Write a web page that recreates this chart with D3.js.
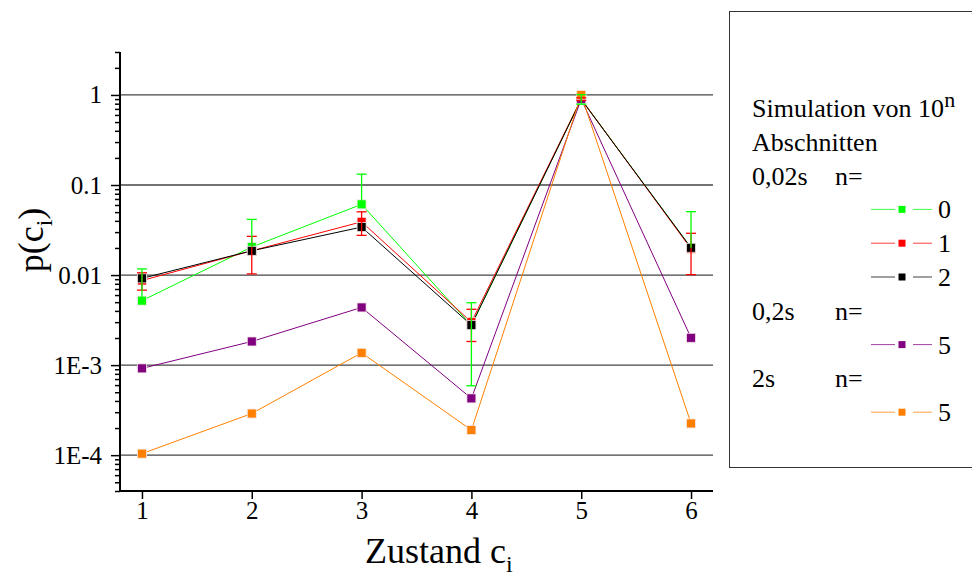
<!DOCTYPE html>
<html>
<head>
<meta charset="utf-8">
<script src="https://cdn.jsdelivr.net/npm/d3@7"></script>
</head>
<body style="margin:0;background:#fff">
<svg id="chart" width="972" height="577" style="display:block"></svg>
<script>
// ---- data ----
const states = [1, 2, 3, 4, 5, 6];
const xTickLabels = ["1", "2", "3", "4", "5", "6"];
const yMajorTicks = [1e-4, 1e-3, 0.01, 0.1, 1];
const yTickLabels = ["1E-4", "1E-3", "0.01", "0.1", "1"];

const green02n0   = [0.0052, 0.0205, 0.061, 0.00276, 0.90, 0.0201];
const green02n0Err = [0.0065, 0.021, 0.071, 0.00217, 0.11, 0.0305];
const red02n1     = [0.0087, 0.0186, 0.039, 0.0030, 0.90, 0.0196];
const red02n1Err  = [0.0019, 0.0083, 0.0114, 0.00117, 0.03, 0.0095];
const black02n2   = [0.0092, 0.0186, 0.0341, 0.00278, 0.89, 0.0201];
const purple2n5   = [0.00092, 0.00183, 0.00437, 0.000427, 0.90, 0.00201];
const orange20n5  = [0.000104, 0.00029, 0.00137, 0.00019, 1.0, 0.000225];

const seriesNames = ["0", "1", "2", "5", "5"];

// ---- setup ----
const FF = '"Liberation Serif"';
const svg = d3.select("#chart");
const x = d3.scaleLinear().domain([0.8, 6.2]).range([120, 713]);
const y = d3.scaleLog().domain([4e-5, 3]).range([491, 52]);

const series = [
  { values: green02n0, err: green02n0Err, color: "#00ff00" },
  { values: red02n1, err: red02n1Err, color: "#ff0000" },
  { values: black02n2, err: null, color: "#000000" },
  { values: purple2n5, err: null, color: "#800080" },
  { values: orange20n5, err: null, color: "#ff8000" }
];

// gridlines
svg.append("g").selectAll("line").data(yMajorTicks).join("line")
  .attr("x1", x.range()[0]).attr("x2", x.range()[1])
  .attr("y1", d => y(d)).attr("y2", d => y(d))
  .attr("stroke", "#444").attr("stroke-width", 1.3);

// lines
const line = d3.line().x((d, i) => x(states[i])).y(d => y(d));
series.forEach(s => {
  svg.append("path").datum(s.values)
    .attr("d", line).attr("fill", "none")
    .attr("stroke", s.color).attr("stroke-width", 1);
});

// markers
series.forEach(s => {
  svg.append("g").selectAll("rect").data(s.values).join("rect")
    .attr("x", (d, i) => x(states[i]) - 4.5)
    .attr("y", d => y(d) - 4.5)
    .attr("width", 9).attr("height", 9)
    .attr("fill", s.color)
    .attr("stroke", "#f4e8e8").attr("stroke-width", 0.8);
});

// error bars (red then green)
[series[1], series[0]].forEach(s => {
  const g = svg.append("g").attr("stroke", s.color).attr("stroke-width", 1.3);
  s.values.forEach((v, i) => {
    const e = s.err[i];
    const cx = x(states[i]);
    const hi = v + e, lo = v - e;
    g.append("line").attr("x1", cx).attr("x2", cx)
      .attr("y1", y(hi)).attr("y2", lo > 0 ? y(lo) : y(v));
    g.append("line").attr("x1", cx - 5).attr("x2", cx + 5)
      .attr("y1", y(hi)).attr("y2", y(hi));
    if (lo > 0) {
      g.append("line").attr("x1", cx - 5).attr("x2", cx + 5)
        .attr("y1", y(lo)).attr("y2", y(lo));
    }
  });
});

// y axis
const minorTicks = [];
for (let e = -5; e <= 0; e++) {
  for (let k = 2; k <= 9; k++) {
    const v = k * Math.pow(10, e);
    if (v >= 4e-5 * 0.999 && v <= 3.001) minorTicks.push(v);
  }
}
const yMinor = svg.append("g").attr("transform", "translate(120,0)")
  .call(d3.axisLeft(y).tickValues(minorTicks).tickSize(5).tickFormat(""));
yMinor.select(".domain").remove();
yMinor.selectAll("line").attr("stroke", "#000").attr("stroke-width", 1.5);

const yAxis = svg.append("g").attr("transform", "translate(120,0)")
  .call(d3.axisLeft(y).tickValues(yMajorTicks).tickSize(9).tickPadding(9)
    .tickFormat((d, i) => yTickLabels[i]));
yAxis.select(".domain").attr("stroke", "#000").attr("stroke-width", 2)
  .attr("d", `M0,${y.range()[0]}V${y.range()[1]}`);
yAxis.selectAll("line").attr("stroke", "#000").attr("stroke-width", 1.5);
yAxis.selectAll("text").style("font-family", FF).style("font-size", "25px");

// x axis
const xAxis = svg.append("g").attr("transform", `translate(0,${y.range()[0]})`)
  .call(d3.axisBottom(x).tickValues(states).tickSize(8).tickPadding(2)
    .tickFormat((d, i) => xTickLabels[i]));
xAxis.select(".domain").attr("stroke", "#000").attr("stroke-width", 2)
  .attr("d", `M${x.range()[0]},0H${x.range()[1]}`);
xAxis.selectAll("line").attr("stroke", "#000").attr("stroke-width", 1.5);
xAxis.selectAll("text").style("font-family", FF).style("font-size", "25px");

// axis titles
const xt = svg.append("text").attr("x", 365).attr("y", 563)
  .style("font-family", FF).style("font-size", "36px");
xt.append("tspan").text("Zustand c");
xt.append("tspan").attr("dy", 9).style("font-size", "24px").text("i");

const yt = svg.append("text").attr("transform", "translate(43,240) rotate(-90)")
  .attr("text-anchor", "middle").style("font-family", FF).style("font-size", "36px");
yt.append("tspan").text("p(c");
yt.append("tspan").attr("dy", 9).style("font-size", "24px").text("i");
yt.append("tspan").attr("dy", -9).text(")");

// legend
svg.append("rect").attr("x", 729.5).attr("y", 11.5).attr("width", 260).attr("height", 456)
  .attr("fill", "none").attr("stroke", "#333").attr("stroke-width", 1);

const rowY = i => 108 + 33.8 * i + 9;
const lg = svg.append("g");
const addText = (xx, yy, t) => lg.append("text").attr("x", xx).attr("y", yy)
  .style("font-family", FF).style("font-size", "26px").text(t);
const t0 = addText(752, rowY(0), null);
t0.append("tspan").text("Simulation von 10");
t0.append("tspan").attr("dy", -10).style("font-size", "22px").text("n");
addText(752, rowY(1), "Abschnitten");
const headers = [[2, "0,02s"], [6, "0,2s"], [8, "2s"]];
headers.forEach(([r, t]) => {
  addText(752, rowY(r), t);
  addText(835, rowY(r), "n=");
});
const entryRows = [3, 4, 5, 7, 9];
series.forEach((s, i) => {
  const cy = 108 + 33.8 * entryRows[i];
  lg.append("line").attr("x1", 871).attr("x2", 895).attr("y1", cy).attr("y2", cy)
    .attr("stroke", s.color).attr("stroke-width", 1).attr("stroke-opacity", 0.75);
  lg.append("line").attr("x1", 913).attr("x2", 932).attr("y1", cy).attr("y2", cy)
    .attr("stroke", s.color).attr("stroke-width", 1).attr("stroke-opacity", 0.75);
  lg.append("rect").attr("x", 898.5).attr("y", cy - 3.5).attr("width", 7).attr("height", 7)
    .attr("fill", s.color);
  addText(938, cy + 9, seriesNames[i]);
});

svg.selectAll("text").style("fill", "#000");
</script>
</body>
</html>
